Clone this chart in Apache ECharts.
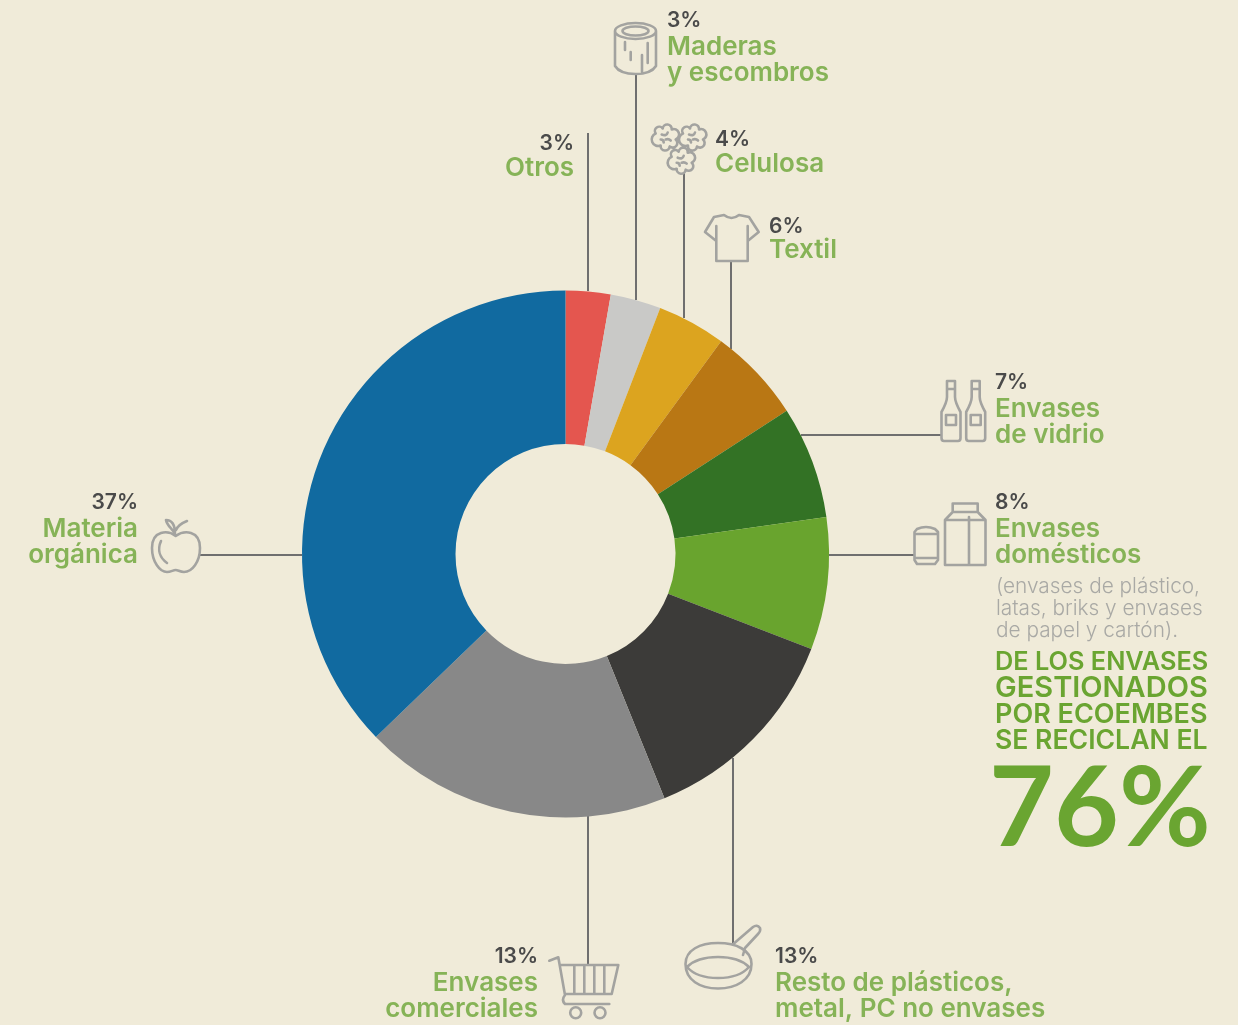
<!DOCTYPE html>
<html>
<head>
<meta charset="utf-8">
<title>Composición de residuos</title>
<script src="https://cdn.jsdelivr.net/npm/echarts@6/dist/echarts.min.js"></script>
<style>
  html, body { margin: 0; padding: 0; background: #f0ebd9; }
  #chart { width: 1238px; height: 1025px; }
</style>
</head>
<body>
<div id="chart"></div>
<script>
// data. Printed percentages and slice sizes differ in the original
const categories = [
  'Otros', 'Maderas\ny escombros', 'Celulosa', 'Textil', 'Envases\nde vidrio',
  'Envases\ndomésticos', 'Resto de plásticos,\nmetal, PC no envases',
  'Envases\ncomerciales', 'Materia\norgánica'
]
const printedPercents = ['3%', '3%', '4%', '6%', '7%', '8%', '13%', '13%', '37%']
const sliceShares = [2.75, 3.1, 4.2, 5.8, 6.9, 8.1, 13, 18.9, 37.2]
const noteLines = ['(envases de plástico,', 'latas, briks y envases', 'de papel y cartón).']
const headlineLines = ['DE LOS ENVASES', 'GESTIONADOS', 'POR ECOEMBES', 'SE RECICLAN EL']
const headlineValue = '76%'

// styling and layout
const sliceColors = ['#e4564f', '#c9c9c7', '#dca41f', '#b97714', '#337225', '#69a42e', '#3c3b39', '#888888', '#116aa0']
const headlineSizes = [25.3, 29, 27, 26.6] // the lines are fitted to one width in the original
const FONT = 'Inter'
const PCT_COLOR = '#4a4a4a'
const NAME_COLOR = '#86b357'
const ICON_COLOR = '#a3a3a0'
const LINE_COLOR = '#6f6f6f'

// [x, align, y of percent, y of first name line]
const labelPlaces = [
  [574, 'right', 144, 168],
  [667, 'left', 21, 47],
  [715, 'left', 140, 164],
  [769, 'left', 227, 250],
  [995, 'left', 383, 409],
  [995, 'left', 503, 529],
  [775, 'left', 957, 983],
  [538, 'right', 957, 983],
  [138, 'right', 503, 529]
]

// leader lines [x1, y1, x2, y2]
const leaders = [
  [588, 133, 588, 291],
  [636, 74, 636, 300],
  [684, 172, 684, 318],
  [731, 262, 731, 349],
  [801, 435, 941, 435],
  [829, 555, 914, 555],
  [733, 758, 733, 944],
  [588, 816, 588, 965],
  [200, 555, 302, 555]
]

const cotton = (x, y) =>
  `M${x - 10} ${y - 4}A4 4 0 0 1 ${x - 3} ${y - 9}A4 4 0 0 1 ${x + 6} ${y - 8}A4 4 0 0 1 ${x + 10} ${y + 2}` +
  `A4 4 0 0 1 ${x + 4} ${y + 9}A4 4 0 0 1 ${x - 5} ${y + 8}A4 4 0 0 1 ${x - 10} ${y - 4}Z` +
  `M${x - 4} ${y - 3}Q${x + 1} ${y - 1} ${x + 2} ${y - 5}M${x} ${y + 2}Q${x + 3} ${y + 1} ${x + 5} ${y + 3}M${x - 5} ${y + 2}Q${x - 2} ${y + 2} ${x - 2} ${y + 5}`

const bottle = x =>
  `M${x - 4} 381H${x + 4}V397Q${x + 4} 402 ${x + 9.5} 412V438Q${x + 9.5} 441 ${x + 7} 441H${x - 7}Q${x - 9.5} 441 ${x - 9.5} 438V412Q${x - 4} 402 ${x - 4} 397Z` +
  `M${x - 4} 389H${x + 4}M${x - 5} 415H${x + 5}V425H${x - 5}Z`

const wheel = x => `M${x - 5.5} 1012.7A5.5 5.5 0 1 1 ${x + 5.5} 1012.7A5.5 5.5 0 1 1 ${x - 5.5} 1012.7Z`

const icons = [
  // log
  'M615 31A20.5 8 0 1 1 656 31A20.5 8 0 1 1 615 31ZM622.5 31A13 4.5 0 1 1 648.5 31A13 4.5 0 1 1 622.5 31Z' +
  'M615 31V66Q620 74 635.5 74Q651 74 656 66V31M625 42V50M630.7 52V60M642 55V72M647.7 43V63',
  // cotton
  cotton(665.7, 137.5) + cotton(693, 137.5) + cotton(681.7, 160.7),
  // shirt
  'M724 215Q731.5 221 739 215L749 217L758.7 232L747.7 241V261H716.3V241L705 232L714 217ZM716.3 241V226M747.7 241V226',
  // bottles
  bottle(951) + bottle(975.7),
  // can and carton
  'M917 529Q926 525 935 529L938 532V560L935 564H917L914.5 560V532ZM914.5 534H938M914.5 558H938' +
  'M952.7 512V503.5H977.7V512M952.7 512H977.7L985.5 520V565H945V520ZM945 520H985.5M969 517V565',
  // pan
  'M685.5 964C685.5 950 700 943 718 943C736 943 751.5 950 751.5 964C751.5 980 736 988.5 718 988.5C700 988.5 685.5 980 685.5 964Z' +
  'M687 967C694 960 706 957 718 957C730 957 742 960 749 967C742 975 730 978 718 978C706 978 694 975 687 967Z' +
  'M733.3 944L753 927Q757 924 760 928Q761 931 758 934L745 948L743 955',
  // cart
  'M549.3 960.7L558.3 957.3L565 995Q561 1000 565 1004H609.3M560 965H618.3L611.7 994H565' +
  'M574.3 965V994M584.3 965V994M594.3 965V994M604.3 965V994' + wheel(575.7) + wheel(600),
  // apple
  'M175.7 536C168 530 152 530 152 548C152 562 160 572 167 572C171 572 173 570 175.7 570C178 570 180 572 184 572C192 572 200 562 200 548C200 530 184 530 175.7 536Z' +
  'M161 541C157 550 160 558 167 563M175 534C172 528 167 526 166 520C172 520 175 525 175 534M176 530C178 525 182 523 187 521'
]

const text = (str, x, y, size, color, weight, align, family) => ({
  type: 'text',
  x,
  y,
  style: {
    text: str,
    fill: color,
    font: `${weight} ${size}px ${family || FONT}`,
    align: align || 'left',
    verticalAlign: 'middle'
  }
})

const graphics = []

leaders.forEach(l => {
  graphics.push({
    type: 'line',
    shape: { x1: l[0], y1: l[1], x2: l[2], y2: l[3] },
    style: { stroke: LINE_COLOR, lineWidth: 2 }
  })
})

// the graphic component has no plain path type, so each icon is registered as a shape
icons.forEach((d, i) => {
  echarts.graphic.registerShape('icon' + i, echarts.graphic.extendPath(d, {}))
  graphics.push({
    type: 'icon' + i,
    style: { fill: 'none', stroke: ICON_COLOR, lineWidth: 2.6, lineJoin: 'round', lineCap: 'round' }
  })
})

categories.forEach((name, i) => {
  const p = labelPlaces[i]
  graphics.push(text(printedPercents[i], p[0], p[2], 21, PCT_COLOR, 600, p[1]))
  name.split('\n').forEach((line, k) => {
    graphics.push(text(line, p[0], p[3] + k * 26.5, 26, NAME_COLOR, 600, p[1]))
  })
})

noteLines.forEach((line, k) => {
  graphics.push(text(line, 996, 586.5 + k * 22, 20.8, '#a9a9a5', 300))
})
headlineLines.forEach((line, k) => {
  graphics.push(text(line, 995, 662 + k * 26.4, headlineSizes[k], '#6aa531', 600))
})
graphics.push(text(headlineValue, 989, 809.5, 112, '#6aa531', 700, 'left', 'Lato'))

const chart = echarts.init(document.getElementById('chart'))

chart.setOption({
  animation: false,
  backgroundColor: '#f0ebd9',
  series: [
    {
      type: 'pie',
      center: [565.5, 554],
      radius: [110, 263.5],
      startAngle: 90,
      clockwise: true,
      label: { show: false },
      labelLine: { show: false },
      silent: true,
      data: sliceShares.map((value, i) => ({
        value,
        name: categories[i],
        itemStyle: { color: sliceColors[i] }
      }))
    }
  ],
  graphic: graphics
})
</script>
</body>
</html>
